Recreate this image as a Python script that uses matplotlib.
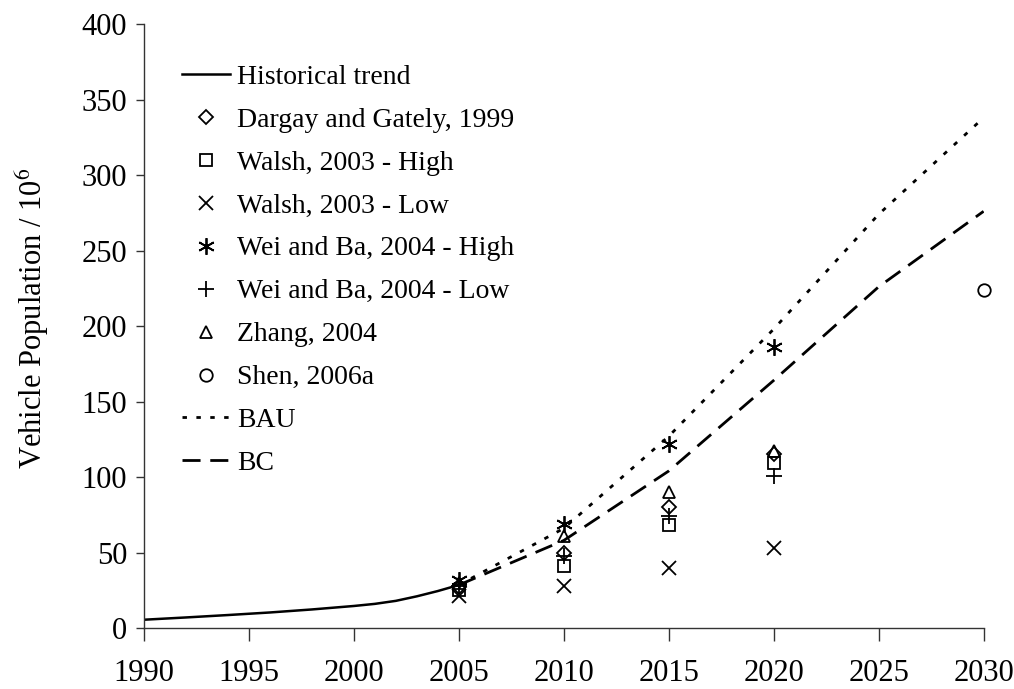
import matplotlib
matplotlib.use("Agg")
import matplotlib.pyplot as plt

plt.rcParams['font.family'] = ['Liberation Serif', 'DejaVu Serif']
plt.rcParams['mathtext.fontset'] = 'stix'

# Historical vehicle population (millions)
hist_years = [1990, 1992, 1994, 1996, 1998, 2000, 2001, 2002, 2003, 2004, 2005]
hist_values = [5.5, 7.0, 8.6, 10.3, 12.3, 14.6, 16.0, 18.0, 21.0, 24.5, 28.5]

# Scenario projections
proj_years = [2005, 2010, 2015, 2020, 2025, 2030]
bau_values = [28.5, 66, 127, 198, 274, 338]
bc_values = [28.5, 58, 104, 164, 226, 276]

# Published forecasts
study_years = [2005, 2010, 2015, 2020]
dargay = [27, 50, 80, 115]
walsh_high = [25, 41, 68, 109]
walsh_low = [21, 28, 40, 53]
wei_high = [32, 69, 122, 186]
wei_low = [28, 48, 74, 101]
zhang = [30, 61, 90, 117]
shen_years = [2030]
shen = [224]

fig = plt.figure(figsize=(10.14, 6.89), dpi=100)
ax = fig.add_axes([0.142, 0.0885, 0.828, 0.8765])

ax.plot(hist_years, hist_values, color='black', lw=1.8, label='Historical trend')

mk = dict(linestyle='none', markerfacecolor='none', markeredgecolor='black',
          markeredgewidth=1.3, clip_on=False)
ax.plot(study_years, dargay, marker='D', markersize=7, label='Dargay and Gately, 1999', **mk)
ax.plot(study_years, walsh_high, marker='s', markersize=9, label='Walsh, 2003 - High', **mk)
ax.plot(study_years, walsh_low, marker='x', markersize=10, label='Walsh, 2003 - Low', **mk)
ax.plot(study_years, wei_high, marker=(6, 2, 0), markersize=12, label='Wei and Ba, 2004 - High', **mk)
ax.plot(study_years, wei_low, marker='+', markersize=12, label='Wei and Ba, 2004 - Low', **mk)
ax.plot(study_years, zhang, marker='^', markersize=9, label='Zhang, 2004', **mk)
ax.plot(shen_years, shen, marker='o', markersize=9, label='Shen, 2006a', **mk)

ax.plot(proj_years, bau_values, color='black', lw=2.0, dashes=(1.6, 3.4), label='BAU')
ax.plot(proj_years, bc_values, color='black', lw=2.0, dashes=(6.5, 3.5), label='BC')

ax.set_xlim(1990, 2030)
ax.set_ylim(0, 400)
ax.set_xticks(range(1990, 2031, 5))
ax.set_yticks(range(0, 401, 50))

for side in ('top', 'right'):
    ax.spines[side].set_visible(False)
for side in ('left', 'bottom'):
    ax.spines[side].set_linewidth(1.0)
    ax.spines[side].set_color('#333333')

ax.tick_params(axis='y', direction='out', length=6, width=1.0, labelsize=22, pad=6, color='#333333')
ax.tick_params(axis='x', direction='out', length=9, width=1.0, labelsize=22, pad=13, color='#333333')

ax.set_ylabel('Vehicle Population / 10$^6$', fontsize=22)
ax.yaxis.set_label_coords(-0.111, 0.513)

leg = ax.legend(loc='upper left', bbox_to_anchor=(0.032, 0.952), frameon=False,
                fontsize=20, handlelength=1.73, handletextpad=0.25,
                labelspacing=0.63, borderaxespad=0)

fig.savefig('out.png', dpi=100, facecolor='white')
